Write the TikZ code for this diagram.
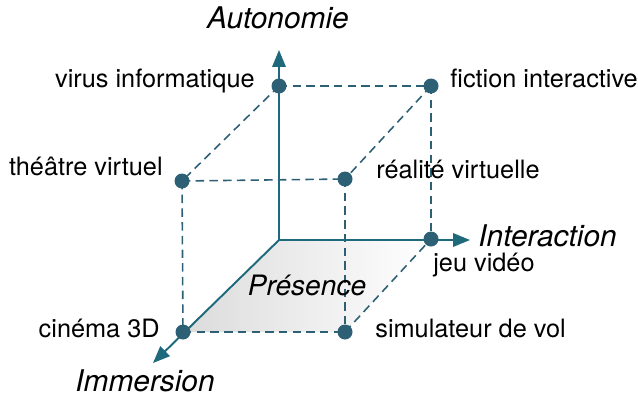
\documentclass[tikz,border=0pt]{standalone}
\usepackage{fontspec}
\setmainfont{TeX Gyre Heros}
\usetikzlibrary{arrows.meta,positioning}
\definecolor{axe}{HTML}{1E6A7C}
\definecolor{pt}{HTML}{2D6074}
\tikzset{
  dot/.style={circle,fill=pt,inner sep=0pt,minimum size=0.3cm},
  axis/.style={draw=axe,line width=1.1pt,-{Triangle[length=0.34cm,width=0.27cm]}},
  link/.style={draw=pt,line width=0.9pt,dash pattern=on 4.8pt off 3pt},
  lbl/.style={inner sep=0pt,font=\fontsize{14.4}{16}\selectfont},
  axlbl/.style={inner sep=0pt,font=\fontsize{17}{20}\selectfont\itshape},
}
\begin{document}
\begin{tikzpicture}[x=0.02cm,y=-0.02cm]
            \useasboundingbox (0,0) rectangle (638,396);
            \coordinate (O) at (279,240);
            \coordinate (up) at (279,50);
            \coordinate (right) at (470,240);
            \coordinate (down) at (153,363);

            \coordinate (pv) at (279,86);
            \coordinate (pf) at (431,86);
            \coordinate (pt) at (182,181);
            \coordinate (pr) at (345,179);
            \coordinate (pj) at (431,239);
            \coordinate (pc) at (183,332);
            \coordinate (ps) at (345,332);

            % plan de presence
            \shade[left color=black!14,right color=white] (O) -- (pj) -- (ps) -- (pc) -- cycle;

            % aretes du cube
            \draw[link] (pv) -- (pf);
            \draw[link] (pv) -- (pt);
            \draw[link] (pf) -- (pr);
            \draw[link] (pf) -- (pj);
            \draw[link] (pt) -- (pr);
            \draw[link] (pt) -- (pc);
            \draw[link] (pr) -- (ps);
            \draw[link] (pc) -- (ps);
            \draw[link] (ps) -- (pj);

            % axes
            \draw[axis] (O) -- (up);
            \draw[axis] (O) -- (right);
            \draw[axis] (O) -- (down);

            \node[dot] (virus) at (pv) {};
            \node[dot] (fiction) at (pf) {};
            \node[dot] (theatre) at (pt) {};
            \node[dot] (realite) at (pr) {};
            \node[dot] (jeu) at (pj) {};
            \node[dot] (cinema) at (pc) {};
            \node[dot] (simu) at (ps) {};

            \node[lbl,anchor=base east] at (255,87) {virus informatique};
            \node[lbl,anchor=base west] at (450,87) {fiction interactive};
            \node[lbl,anchor=base east] at (163,175) {théâtre virtuel};
            \node[lbl,anchor=base west] at (376,178) {réalité virtuelle};
            \node[lbl,anchor=base west] at (433,271) {jeu vidéo};
            \node[lbl,anchor=base east] at (160,337) {cinéma 3D};
            \node[lbl,anchor=base west] at (375,337) {simulateur de vol};

            \node[axlbl,anchor=base] at (278,28) {Autonomie};
            \node[axlbl,anchor=base west] at (478,246) {Interaction};
            \node[axlbl,anchor=base] at (145,391) {Immersion};
            \node[axlbl,font=\fontsize{16}{18}\selectfont\itshape,anchor=base] at (307,295) {Présence};
        \end{tikzpicture}
\end{document}
